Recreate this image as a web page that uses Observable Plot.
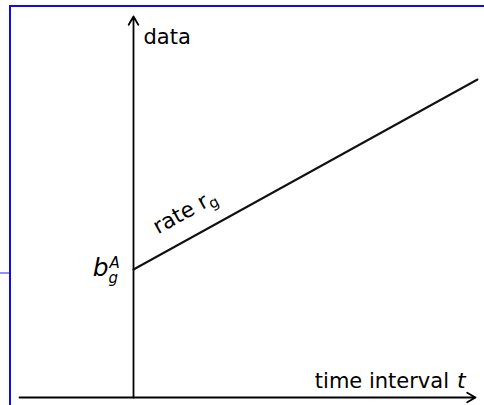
<!DOCTYPE html>
<html>
<head>
<meta charset="utf-8">
<script src="https://cdn.jsdelivr.net/npm/d3@7"></script>
<script src="https://cdn.jsdelivr.net/npm/@observablehq/plot@0.6"></script>
<style>
  html, body { margin: 0; padding: 0; background: #fff; }
  #wrap { position: relative; width: 484px; height: 405px; overflow: hidden; }
  #wrap svg { position: absolute; left: 0; top: 0; }
  .frame-top { position: absolute; left: 9px; top: 5px; width: 475px; height: 2px; background: #0a0aff; }
  .frame-left { position: absolute; left: 9px; top: 5px; width: 2px; height: 400px; background: #0a0aff; }
  .frame-stub { position: absolute; left: 0; top: 272px; width: 9px; height: 2px; background: #8f8fff; }
</style>
</head>
<body>
<div id="wrap">
  <div class="frame-top"></div>
  <div class="frame-left"></div>
  <div class="frame-stub"></div>
</div>
<script>
// Axes (arrows): start and end points in data units
const axisX1 = [-1.14, 0];
const axisY1 = [0, 0];
const axisX2 = [3.42, 0];
const axisY2 = [0, 3.81];

// Data line: intercept b_g^A and growth with rate r_g
const lineT = [0, 3.44];
const lineV = [1.28, 3.18];

// Labels
const axisLabels = ["time interval", "t", "data"];
const labelX = [3.155, 3.235, 0.10];
const labelY = [0.10, 0.10, 3.54];
const rateLabel = "rate r";
const rateSub = "g";
const rateX = [0.245];
const rateY = [1.63];
const bParts = ["b", "A", "g"];

const idx = d3.range;

const chart = Plot.plot({
  width: 484,
  height: 405,
  marginTop: 0, marginRight: 0, marginBottom: 0, marginLeft: 0,
  x: {domain: [-1.33, 3.51], axis: null},
  y: {domain: [-0.08, 3.97], axis: null},
  style: {background: "transparent", overflow: "visible"},
  marks: [
    Plot.arrow(idx(2), {
      x1: i => axisX1[i], y1: i => axisY1[i],
      x2: i => axisX2[i], y2: i => axisY2[i],
      stroke: "#000", strokeWidth: 1.8, headLength: 8, headAngle: 60
    }),
    Plot.line(idx(2), {x: i => lineT[i], y: i => lineV[i], stroke: "#111", strokeWidth: 2}),
    Plot.text(idx(1), {
      x: i => labelX[0], y: i => labelY[0], text: i => axisLabels[0],
      textAnchor: "end", lineAnchor: "bottom", fontSize: 21, fill: "#000",
      fontFamily: "DejaVu Sans"
    }),
    Plot.text(idx(1), {
      x: i => labelX[1], y: i => labelY[1], text: i => axisLabels[1],
      textAnchor: "start", lineAnchor: "bottom", fontSize: 22, fill: "#000",
      fontFamily: "DejaVu Sans", fontStyle: "italic"
    }),
    Plot.text(idx(1), {
      x: i => labelX[2], y: i => labelY[2], text: i => axisLabels[2],
      textAnchor: "start", lineAnchor: "bottom", fontSize: 21, fill: "#000",
      fontFamily: "DejaVu Sans"
    }),
    Plot.text(idx(1), {
      x: i => rateX[i], y: i => rateY[i], text: i => rateLabel,
      textAnchor: "start", lineAnchor: "bottom", rotate: -28.9, fontSize: 21.5, fill: "#000",
      fontFamily: "DejaVu Sans"
    }),
    // b_g^A at the intercept
    Plot.text(idx(1), {
      x: i => lineT[0], y: i => lineV[0], text: i => bParts[0],
      textAnchor: "end", lineAnchor: "bottom", dx: -25, dy: 6, fontSize: 25, fill: "#000",
      fontFamily: "DejaVu Sans", fontStyle: "italic"
    }),
    Plot.text(idx(1), {
      x: i => lineT[0], y: i => lineV[0], text: i => bParts[1],
      textAnchor: "start", lineAnchor: "bottom", dx: -24, dy: -2, fontSize: 15, fill: "#000",
      fontFamily: "DejaVu Sans", fontStyle: "italic"
    }),
    Plot.text(idx(1), {
      x: i => lineT[0], y: i => lineV[0], text: i => bParts[2],
      textAnchor: "start", lineAnchor: "bottom", dx: -25, dy: 13, fontSize: 15, fill: "#000",
      fontFamily: "DejaVu Sans", fontStyle: "italic"
    })
  ]
});

// add subscript g to "rate r"
chart.querySelectorAll("text").forEach(t => {
  if (t.textContent === rateLabel) {
    const ts = document.createElementNS("http://www.w3.org/2000/svg", "tspan");
    ts.setAttribute("font-size", "15");
    ts.setAttribute("dy", "4");
    ts.textContent = rateSub;
    t.appendChild(ts);
  }
});

document.getElementById("wrap").appendChild(chart);
</script>
</body>
</html>
